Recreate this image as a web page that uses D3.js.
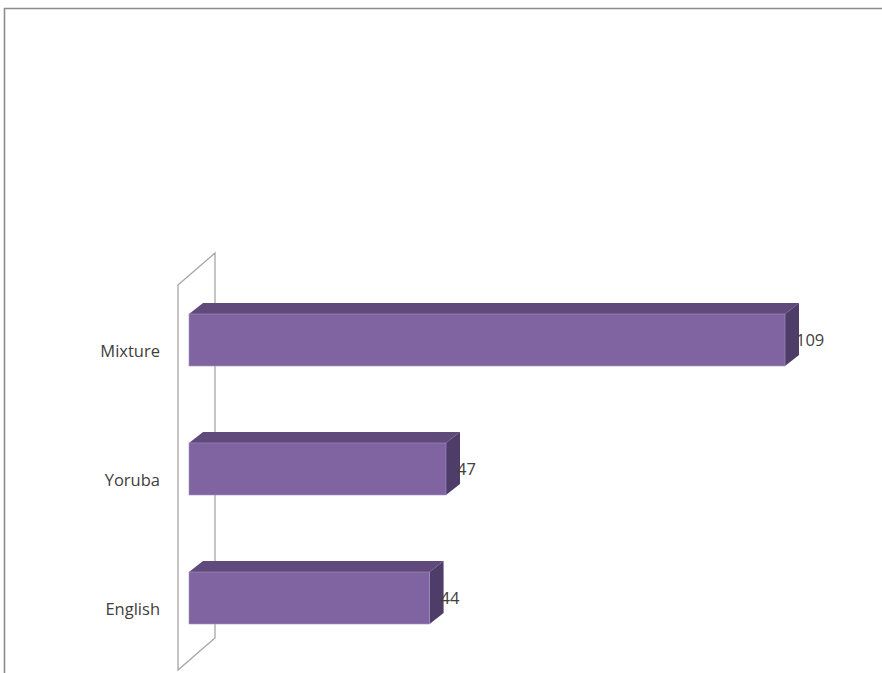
<!DOCTYPE html>
<html>
<head>
<meta charset="utf-8">
<script src="https://cdn.jsdelivr.net/npm/d3@7"></script>
<style>
html,body{margin:0;padding:0;background:#fff;}
svg{display:block;}
</style>
</head>
<body>
<svg id="chart" width="882" height="673"></svg>
<script>
const categories = ["Mixture", "Yoruba", "English"];
const values = [109, 47, 44];
const valueLabels = ["109", "47", "44"];

const svg = d3.select("#chart");
const W = 882, H = 673;

// outer border
svg.append("path")
  .attr("d", "M4.5," + (H + 5) + " L4.5,8.5 L" + (W + 5) + ",8.5")
  .attr("fill", "none").attr("stroke", "#8c8c8c").attr("stroke-width", 1.6);

const x = d3.scaleLinear().domain([0, 120]).range([189, 189 + 120 * 5.468]);
const y = d3.scaleBand().domain(categories).range([275.5, 662.5]).padding(0);

const barH = 52;
const dx = 14, dy = -11;

// back wall
const wx0 = x(0) - 11, wdx = 37, wdy = -32;
const wTop = 285, wBot = 670;
svg.append("path")
  .attr("d", `M${wx0},${wTop} L${wx0 + wdx},${wTop + wdy} L${wx0 + wdx},${wBot + wdy} L${wx0},${wBot} Z`)
  .attr("fill", "none").attr("stroke", "#a6a6a6").attr("stroke-width", 1.3);

const colFront = "#8064a2", colTop = "#604a7b", colSide = "#4f3d69";
const font = "'Open Sans', 'DejaVu Sans', sans-serif";

const g = svg.append("g");
categories.forEach((c, i) => {
  const cy = y(c) + y.bandwidth() / 2;
  const y0 = cy - barH / 2, y1 = cy + barH / 2;
  const x0 = x(0), x1 = x(values[i]);
  // top face
  g.append("path")
    .attr("d", `M${x0},${y0} L${x0 + dx},${y0 + dy} L${x1 + dx},${y0 + dy} L${x1},${y0} Z`)
    .attr("fill", colTop);
  // side face
  g.append("path")
    .attr("d", `M${x1},${y0} L${x1 + dx},${y0 + dy} L${x1 + dx},${y1 + dy} L${x1},${y1} Z`)
    .attr("fill", colSide);
  // front face
  g.append("rect")
    .attr("x", x0).attr("y", y0).attr("width", x1 - x0).attr("height", barH)
    .attr("fill", colFront).attr("stroke", "#a391c0").attr("stroke-width", 0.6);
  // value label
  g.append("text")
    .attr("x", x1 + 11).attr("y", cy + 2)
    .attr("dominant-baseline", "middle")
    .attr("font-family", font)
    .attr("font-size", 16.5).attr("fill", "#404040")
    .text(valueLabels[i]);
  // category label
  g.append("text")
    .attr("x", 160).attr("y", cy + 13)
    .attr("text-anchor", "end").attr("dominant-baseline", "middle")
    .attr("font-family", font)
    .attr("font-size", 16.5).attr("fill", "#404040")
    .text(c);
});
</script>
</body>
</html>
